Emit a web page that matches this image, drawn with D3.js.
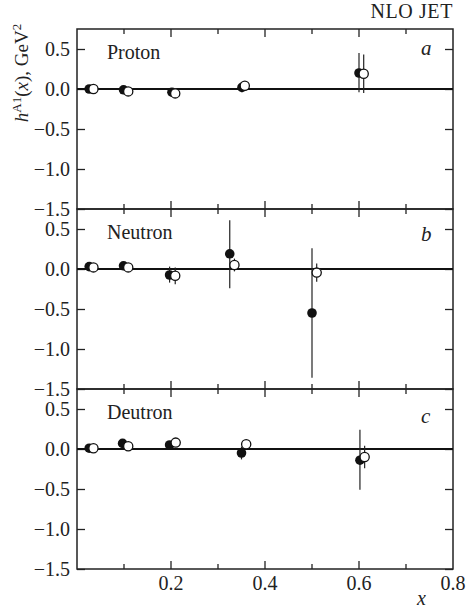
<!DOCTYPE html>
<html>
<head>
<meta charset="utf-8">
<script src="https://cdn.jsdelivr.net/npm/d3@7"></script>
<style>
  html, body { margin: 0; padding: 0; background: #fff; }
  svg { display: block; }
  svg text { font-family: 'Liberation Serif', 'Times New Roman', Times, serif !important; fill: #222; }
</style>
</head>
<body>
<svg id="chart" width="467" height="612"></svg>
<script>
// ---------- data ----------
const panelNames = ["Proton", "Neutron", "Deutron"];
const panelLetters = ["a", "b", "c"];
const yTickValues = [0.5, 0.0, -0.5, -1.0, -1.5];
const xMajorTicks = [0.2, 0.4, 0.6, 0.8];
const xMinorTicks = [0.1, 0.3, 0.5, 0.7];
const xTickLabels = ["0.2", "0.4", "0.6", "0.8"];

// each point: [x, y, errLow, errHigh]
const protonFilled = [[0.026, 0.00, -0.02, 0.02], [0.099, -0.01, -0.03, 0.01], [0.202, -0.04, -0.06, -0.02], [0.351, 0.02, -0.04, 0.07], [0.600, 0.20, -0.04, 0.45]];
const protonOpen   = [[0.035, 0.00, -0.03, 0.03], [0.109, -0.03, -0.05, 0.01], [0.209, -0.055, -0.07, -0.04], [0.357, 0.04, -0.02, 0.08], [0.610, 0.19, -0.05, 0.43]];
const neutronFilled = [[0.026, 0.03, 0.01, 0.05], [0.099, 0.04, 0.02, 0.06], [0.197, -0.075, -0.17, 0.03], [0.325, 0.19, -0.24, 0.61], [0.500, -0.55, -1.36, 0.26]];
const neutronOpen   = [[0.035, 0.02, -0.01, 0.05], [0.109, 0.02, 0.00, 0.04], [0.209, -0.085, -0.19, 0.02], [0.335, 0.05, -0.03, 0.13], [0.510, -0.045, -0.16, 0.07]];
const deutronFilled = [[0.026, 0.01, -0.01, 0.03], [0.097, 0.07, 0.05, 0.09], [0.197, 0.05, 0.02, 0.08], [0.350, -0.05, -0.13, 0.03], [0.602, -0.14, -0.51, 0.24]];
const deutronOpen   = [[0.035, 0.01, -0.03, 0.04], [0.109, 0.035, -0.02, 0.08], [0.210, 0.08, 0.05, 0.10], [0.360, 0.06, 0.03, 0.09], [0.612, -0.10, -0.24, 0.04]];

const filledSeries = [protonFilled, neutronFilled, deutronFilled];
const openSeries = [protonOpen, neutronOpen, deutronOpen];

// ---------- layout ----------
const FONT = "'Liberation Serif', 'Times New Roman', Times, serif";
const svg = d3.select("#chart").attr("font-family", FONT);
const left = 77, right = 453;
const panelTop0 = 29, panelH = 180;
const x = d3.scaleLinear().domain([0, 0.8]).range([left, right]);
const fmt = d => (d < 0 ? "\u2212" : "") + Math.abs(d).toFixed(1);
const ink = "#222";
const labelOffsets = [26, 32, 34];

for (let i = 0; i < 3; i++) {
  const top = panelTop0 + i * panelH;
  const y = d3.scaleLinear().domain([-1.5, 0.75]).range([top + panelH, top]);
  const g = svg.append("g");

  // frame
  g.append("rect").attr("x", left).attr("y", top).attr("width", right - left).attr("height", panelH)
    .attr("fill", "none").attr("stroke", ink).attr("stroke-width", 1.5);

  // left axis
  const la = g.append("g").attr("transform", `translate(${left},0)`)
    .call(d3.axisLeft(y).tickValues(yTickValues).tickSize(-8).tickPadding(7).tickFormat(fmt));
  la.attr("font-family", FONT).attr("font-size", 20);
  la.select(".domain").remove();
  la.selectAll("line").attr("stroke", ink).attr("stroke-width", 1.3);
  la.selectAll("text").attr("fill", ink);

  // right axis
  const ra = g.append("g").attr("transform", `translate(${right},0)`)
    .call(d3.axisRight(y).tickValues(yTickValues).tickSize(-8).tickFormat(""));
  ra.select(".domain").remove();
  ra.selectAll("line").attr("stroke", ink).attr("stroke-width", 1.3);

  // top/bottom x ticks (inward)
  [[top, 1], [top + panelH, -1]].forEach(([yy, dir]) => {
    g.selectAll(null).data(xMajorTicks.slice(0, 3)).enter().append("line")
      .attr("x1", d => x(d)).attr("x2", d => x(d)).attr("y1", yy).attr("y2", yy + dir * 8)
      .attr("stroke", ink).attr("stroke-width", 1.3);
    g.selectAll(null).data(xMinorTicks).enter().append("line")
      .attr("x1", d => x(d)).attr("x2", d => x(d)).attr("y1", yy).attr("y2", yy + dir * 5)
      .attr("stroke", ink).attr("stroke-width", 1.3);
  });

  // zero line
  g.append("line").attr("x1", left).attr("x2", right).attr("y1", y(0)).attr("y2", y(0))
    .attr("stroke", "#111").attr("stroke-width", 2.2);

  // error bars
  const errs = filledSeries[i].concat(openSeries[i]);
  g.selectAll(null).data(errs).enter().append("line")
    .attr("x1", d => x(d[0])).attr("x2", d => x(d[0]))
    .attr("y1", d => y(d[2])).attr("y2", d => y(d[3]))
    .attr("stroke", ink).attr("stroke-width", 1.2);

  // filled points
  g.selectAll(null).data(filledSeries[i]).enter().append("circle")
    .attr("cx", d => x(d[0])).attr("cy", d => y(d[1])).attr("r", 4.8)
    .attr("fill", "#111");
  // open points
  g.selectAll(null).data(openSeries[i]).enter().append("circle")
    .attr("cx", d => x(d[0])).attr("cy", d => y(d[1])).attr("r", 4.6)
    .attr("fill", "#fff").attr("stroke", "#111").attr("stroke-width", 1.3);

  // panel name
  g.append("text").attr("x", 107).attr("y", top + 30).attr("font-size", 20).text(panelNames[i]);
  // panel letter
  g.append("text").attr("x", 421).attr("y", top + labelOffsets[i]).attr("font-size", 21)
    .attr("font-style", "italic").text(panelLetters[i]);

  if (i === 2) {
    g.selectAll(null).data(xMajorTicks).enter().append("text")
      .attr("x", d => x(d)).attr("y", top + panelH + 21)
      .attr("text-anchor", "middle").attr("font-size", 20)
      .text((d, k) => xTickLabels[k]);
  }
}

// NLO JET
svg.append("text").attr("x", 453).attr("y", 18).attr("text-anchor", "end")
  .attr("font-size", 20).attr("letter-spacing", 0.6).text("NLO JET");

// x axis title
svg.append("text").attr("x", 417).attr("y", 605).attr("font-size", 20)
  .attr("font-style", "italic").text("x");

// y axis title
const yt = svg.append("text").attr("transform", "translate(28,73) rotate(-90)")
  .attr("text-anchor", "middle").attr("font-size", 19);
yt.append("tspan").attr("font-style", "italic").text("h");
yt.append("tspan").attr("font-size", 13).attr("dy", -7).text("A1");
yt.append("tspan").attr("dy", 7).text("(");
yt.append("tspan").attr("font-style", "italic").text("x");
yt.append("tspan").text("), GeV");
yt.append("tspan").attr("font-size", 13).attr("dy", -7).text("2");
</script>
</body>
</html>
